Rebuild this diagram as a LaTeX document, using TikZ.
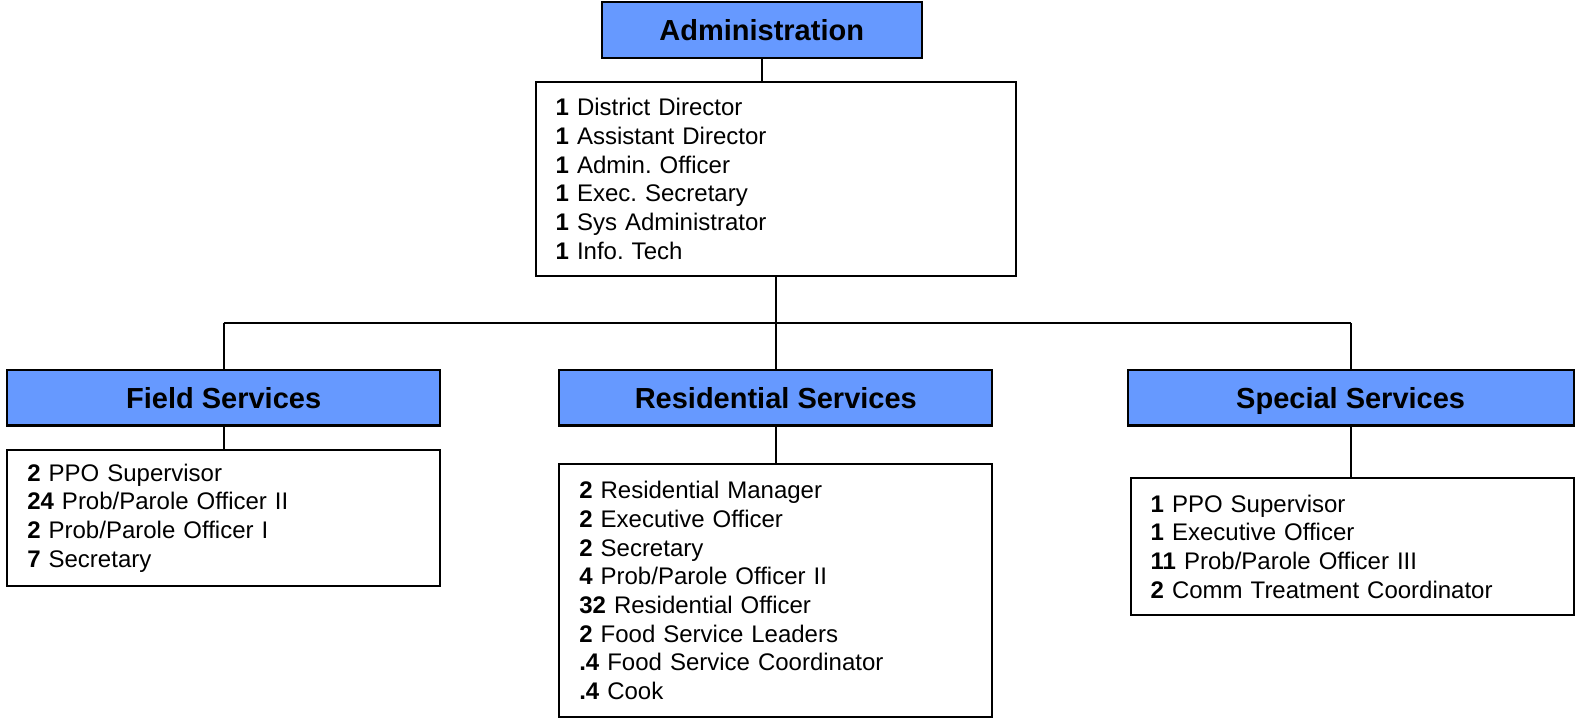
\documentclass[tikz,border=0pt]{standalone}
\usepackage{fontspec}
\setmainfont{Liberation Sans}
\definecolor{hdrblue}{RGB}{102,153,255}
\frenchspacing
\begin{document}
\begin{tikzpicture}[x=1pt,y=-1pt,
  hdr/.style={draw=black,line width=2.2pt,fill=hdrblue,inner sep=0pt,
    text height=20.8pt,text depth=0pt,
    font=\fontsize{29}{34}\selectfont\bfseries},
  listbox/.style={draw=black,line width=2pt,fill=white,inner ysep=0pt,
    inner xsep=20pt,align=left,font=\fontsize{24}{28.7}\selectfont},
  conn/.style={line width=2pt}]
\useasboundingbox (0,0) rectangle (1575,718);

% headers
\node[hdr,minimum width=320pt,minimum height=56pt] (adminhead) at (761.7,30) {Administration};
\node[hdr,minimum width=432.7pt,minimum height=55.5pt] (fieldhead) at (223.65,397.75) {Field Services};
\node[hdr,minimum width=433pt,minimum height=55.5pt] (reshead) at (775.8,397.75) {Residential Services};
\node[hdr,minimum width=446pt,minimum height=55.5pt] (spechead) at (1350.65,397.75) {Special Services};

% lists
\node[listbox,text width=440.3pt,minimum height=193.4pt] (admin) at (775.85,179) {%
\textbf{1} District Director\\
\textbf{1} Assistant Director\\
\textbf{1} Admin. Officer\\
\textbf{1} Exec. Secretary\\
\textbf{1} Sys Administrator\\
\textbf{1} Info. Tech};

\node[listbox,text width=392.7pt,minimum height=135.7pt] (field) at (223.65,517.85) {%
\textbf{2} PPO Supervisor\\
\textbf{24} Prob/Parole Officer II\\
\textbf{2} Prob/Parole Officer I\\
\textbf{7} Secretary};

\node[listbox,text width=392.7pt,minimum height=252.4pt] (res) at (775.65,590.5) {%
\textbf{2} Residential Manager\\
\textbf{2} Executive Officer\\
\textbf{2} Secretary\\
\textbf{4} Prob/Parole Officer II\\
\textbf{32} Residential Officer\\
\textbf{2} Food Service Leaders\\
\textbf{.4} Food Service Coordinator\\
\textbf{.4} Cook};

\node[listbox,text width=402.8pt,minimum height=136.7pt] (spec) at (1352.1,546.65) {%
\textbf{1} PPO Supervisor\\
\textbf{1} Executive Officer\\
\textbf{11} Prob/Parole Officer III\\
\textbf{2} Comm Treatment Coordinator};

% connectors
\coordinate (bus) at (0,322.7);
\draw[conn] (adminhead.south) -- (adminhead.south |- admin.north);
\draw[conn] (admin.south) -- (admin.south |- bus);
\draw[conn] (fieldhead.north |- bus) -- (spechead.north |- bus);
\draw[conn] (fieldhead.north) -- (fieldhead.north |- bus);
\draw[conn] (reshead.north) -- (reshead.north |- bus);
\draw[conn] (spechead.north) -- (spechead.north |- bus);
\draw[conn] (fieldhead.south) -- (fieldhead.south |- field.north);
\draw[conn] (reshead.south) -- (reshead.south |- res.north);
\draw[conn] (spechead.south) -- (spechead.south |- spec.north);
\end{tikzpicture}
\end{document}
